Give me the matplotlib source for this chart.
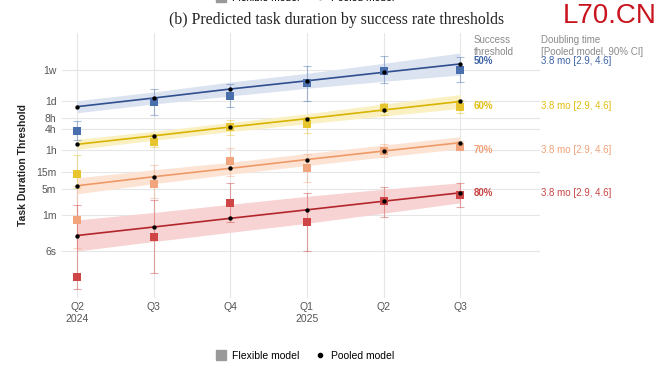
import matplotlib
matplotlib.use('Agg')
import matplotlib.pyplot as plt
from matplotlib.lines import Line2D
from matplotlib.transforms import blended_transform_factory

# ---------------- data (task durations in minutes) ----------------
quarters = ['Q2\n2024', 'Q3', 'Q4', 'Q1\n2025', 'Q2', 'Q3']
thresholds = ['50%', '60%', '70%', '80%']
doubling_labels = ['3.8 mo [2.9, 4.6]', '3.8 mo [2.9, 4.6]', '3.8 mo [2.9, 4.6]', '3.8 mo [2.9, 4.6]']

tick_values = [10080, 1440, 480, 240, 60, 15, 5, 1, 0.1]
tick_labels = ['1w', '1d', '8h', '4h', '1h', '15m', '5m', '1m', '6s']

pooled_50 = [990, 1720, 3060, 5180, 8910, 15200]
pooled_60 = [89, 153, 270, 460, 800, 1380]
pooled_70 = [6.3, 11.2, 19.2, 33.7, 58, 99]
pooled_80 = [0.261, 0.450, 0.784, 1.35, 2.34, 4.01]

band_lo_50 = [671, 1172, 1959, 3206, 5012, 7499]
band_hi_50 = [1449, 2529, 4786, 8356, 15849, 30690]
band_lo_60 = [64.7, 115, 202, 333, 545, 881]
band_hi_60 = [123, 205, 360, 631, 1175, 2153]
band_lo_70 = [3.76, 7.18, 13.1, 23.0, 39.5, 67.1]
band_hi_70 = [10.4, 17.5, 28.2, 49.5, 85.3, 145]
band_lo_80 = [0.0968, 0.178, 0.320, 0.570, 1.09, 2.11]
band_hi_80 = [0.705, 1.14, 1.92, 3.21, 5.04, 7.60]

flex_50 = [213, 1334, 1995, 4406, 9863, 10130]
flex_lo_50 = [117, 570, 986, 1422, 4406, 4699]
flex_hi_50 = [395, 3006, 4295, 13340, 25290, 23280]
flex_60 = [13.6, 105, 270, 327, 891, 986]
flex_lo_60 = [5.44, 75, 161, 187, 581, 659]
flex_hi_60 = [45, 172, 422, 511, 1250, 1517]
flex_70 = [0.703, 6.90, 30.0, 20.2, 58.0, 76.4]
flex_lo_70 = [0.117, 2.87, 11.7, 8.15, 39.5, 61.9]
flex_hi_70 = [6.19, 23.7, 70.3, 47.0, 89.1, 110]
flex_80 = [0.0187, 0.237, 2.13, 0.619, 2.33, 3.48]
flex_lo_80 = [0.00853, 0.0233, 0.631, 0.0968, 0.836, 1.585]
flex_hi_80 = [1.84, 2.53, 7.36, 3.88, 5.92, 7.64]

# ---------------- style ----------------
line_colors = ['#2f4f8f', '#d8b400', '#ee9a68', '#b3262b']
band_colors = ['#dbe3f1', '#fbf0c2', '#fde3d3', '#f7d3d3']
sq_colors = ['#4a6fad', '#e6c52e', '#f2a57c', '#cf4444']
txt_colors = ['#3d63a6', '#e2bd10', '#f0a27a', '#c94545']
label_y = [18360, 1033, 61.9, 3.88]  # vertical placement of right-hand labels

plt.rcParams['font.family'] = ['Liberation Sans Narrow', 'Liberation Sans', 'DejaVu Sans']

pooled = [pooled_50, pooled_60, pooled_70, pooled_80]
band_lo = [band_lo_50, band_lo_60, band_lo_70, band_lo_80]
band_hi = [band_hi_50, band_hi_60, band_hi_70, band_hi_80]
flex = [flex_50, flex_60, flex_70, flex_80]
flex_lo = [flex_lo_50, flex_lo_60, flex_lo_70, flex_lo_80]
flex_hi = [flex_hi_50, flex_hi_60, flex_hi_70, flex_hi_80]

fig = plt.figure(figsize=(6.6, 3.7), dpi=100)
ax = fig.add_axes([62 / 660, 1 - 298 / 370, (540 - 62) / 660, (298 - 33) / 370])
x = list(range(len(quarters)))

for i in range(4):
    ax.fill_between(x, band_lo[i], band_hi[i], color=band_colors[i], lw=0, zorder=1)
for i in range(4):
    ax.plot(x, pooled[i], color=line_colors[i], lw=1.2, zorder=3)
for i in range(4):
    yerr = [[f - l for f, l in zip(flex[i], flex_lo[i])],
            [h - f for f, h in zip(flex[i], flex_hi[i])]]
    ax.errorbar(x, flex[i], yerr=yerr, fmt='none', ecolor=sq_colors[i], alpha=0.45,
                elinewidth=0.8, capsize=2.8, capthick=0.8, zorder=2)
    ax.scatter(x, flex[i], marker='s', s=26, color=sq_colors[i], zorder=4, linewidths=0)
for i in range(4):
    ax.scatter(x, pooled[i], marker='o', s=10, color='black', zorder=5, linewidths=0)

ax.set_yscale('log')
ax.set_ylim(0.0048, 110000)
ax.set_xlim(-0.196, 6.04)
ax.set_yticks(tick_values)
ax.set_yticklabels(tick_labels)
ax.minorticks_off()
ax.set_xticks(x)
ax.set_xticklabels(quarters)
ax.tick_params(axis='both', length=0, labelsize=7.5, colors='#555555')
ax.tick_params(axis='y', pad=4)
ax.tick_params(axis='x', pad=3)
for s in ax.spines.values():
    s.set_visible(False)
ax.grid(True, color='#e6e6e6', lw=0.8, zorder=0)
ax.set_axisbelow(True)
ax.set_ylabel('Task Duration Threshold', fontsize=7.5, fontweight='bold', color='#222222', labelpad=6,
              family=['Liberation Sans', 'DejaVu Sans'])

# right-hand annotations
tr = blended_transform_factory(fig.transFigure, ax.transData)
for i in range(4):
    ax.text(474 / 660, label_y[i], thresholds[i], transform=tr, fontsize=7, fontweight='bold',
            color=txt_colors[i], va='center', ha='left', clip_on=False)
    ax.text(541 / 660, label_y[i], doubling_labels[i], transform=tr, fontsize=7,
            color=txt_colors[i], va='center', ha='left', clip_on=False)
fig.text(474 / 660, 1 - 46 / 370, 'Success\nthreshold', fontsize=7, color='#8a8a8a',
         va='center', ha='left', linespacing=1.3)
fig.text(541 / 660, 1 - 46 / 370, 'Doubling time\n[Pooled model, 90% CI]', fontsize=7, color='#8a8a8a',
         va='center', ha='left', linespacing=1.3)

# title
fig.text(337 / 660, 1 - 20 / 370, '(b) Predicted task duration by success rate thresholds',
         family=['Liberation Serif', 'DejaVu Serif'], fontsize=11.3, color='#222222',
         ha='center', va='center')

# watermark
fig.text(610 / 660, 1 - 16 / 370, 'L70.CN', fontsize=20, color='#c8141e', ha='center', va='center',
         family=['Liberation Sans', 'DejaVu Sans'])

# legends (bottom, and clipped one at top)
handles = [Line2D([], [], marker='s', ls='none', color='#999999', markersize=6.5),
           Line2D([], [], marker='o', ls='none', color='black', markersize=3)]
names = ['Flexible model', 'Pooled model']
for yy in [1 - 356 / 370, 1 - (-2) / 370]:
    fig.legend(handles, names, loc='center', bbox_to_anchor=(305 / 660, yy), ncol=2, frameon=False,
               fontsize=7.5, handletextpad=0.6, columnspacing=1.4, handlelength=1.0)

fig.savefig('out.png', dpi=100)
